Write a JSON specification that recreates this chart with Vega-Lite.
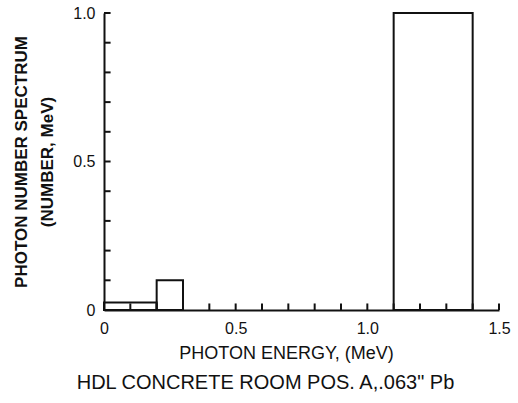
{
  "$schema": "https://vega.github.io/schema/vega-lite/v6.json",
  "width": 395,
  "height": 297,
  "autosize": {"type": "none"},
  "padding": {"left": 104, "top": 13, "right": 19, "bottom": 93},
  "background": "white",
  "title": {
    "text": "HDL CONCRETE ROOM POS. A,.063\" Pb",
    "orient": "bottom",
    "anchor": "middle",
    "font": "Liberation Sans",
    "fontSize": 20,
    "fontWeight": "normal",
    "color": "#111",
    "offset": 11,
    "dx": -36
  },
  "config": {
    "view": {"stroke": null},
    "axis": {
      "grid": false,
      "domainColor": "#111",
      "domainWidth": 2,
      "tickSize": 0,
      "labelFont": "Liberation Sans",
      "labelFontSize": 16,
      "labelColor": "#111",
      "titleFont": "Liberation Sans",
      "titleFontSize": 18,
      "titleFontWeight": "normal",
      "titleColor": "#111"
    }
  },
  "datasets": {
    "bars": [
      {"e0": 0.0, "e1": 0.2, "value": 0.025},
      {"e0": 0.2, "e1": 0.3, "value": 0.1},
      {"e0": 1.1, "e1": 1.4, "value": 1.0}
    ],
    "xticks": [
      {"t": 0.1}, {"t": 0.2}, {"t": 0.3}, {"t": 0.4}, {"t": 0.5}, {"t": 0.6}, {"t": 0.7},
      {"t": 0.8}, {"t": 0.9}, {"t": 1.0}, {"t": 1.1}, {"t": 1.2}, {"t": 1.3}, {"t": 1.4}, {"t": 1.5}
    ],
    "yticks": [
      {"t": 0.1}, {"t": 0.2}, {"t": 0.3}, {"t": 0.4}, {"t": 0.5}, {"t": 0.6}, {"t": 0.7},
      {"t": 0.8}, {"t": 0.9}, {"t": 1.0}
    ]
  },
  "layer": [
    {
      "data": {"name": "bars"},
      "mark": {"type": "rect", "fill": null, "stroke": "#111", "strokeWidth": 2},
      "encoding": {
        "x": {
          "field": "e0",
          "type": "quantitative",
          "scale": {"domain": [0, 1.5], "nice": false},
          "axis": {
            "title": "PHOTON ENERGY, (MeV)",
            "values": [0, 0.5, 1.0, 1.5],
            "labelExpr": "datum.value < 0.001 ? '0' : format(datum.value, '.1f')",
            "labelPadding": 10,
            "labelFlush": false,
            "titlePadding": 8,
            "titleX": 182
          }
        },
        "x2": {"field": "e1"},
        "y": {
          "field": "value",
          "type": "quantitative",
          "scale": {"domain": [0, 1], "nice": false},
          "axis": {
            "title": ["PHOTON NUMBER SPECTRUM", "(NUMBER, MeV)"],
            "values": [0, 0.5, 1.0],
            "labelExpr": "datum.value < 0.001 ? '0' : format(datum.value, '.1f')",
            "labelPadding": 9,
            "labelFlush": false,
            "titlePadding": 16,
            "titleLineHeight": 26,
            "titleFontWeight": "bold",
            "titleFontSize": 17
          }
        },
        "y2": {"datum": 0}
      }
    },
    {
      "data": {"name": "xticks"},
      "mark": {"type": "rule", "color": "#111", "strokeWidth": 2},
      "encoding": {
        "x": {"field": "t", "type": "quantitative"},
        "y": {"datum": 0},
        "y2": {"datum": 0.022}
      }
    },
    {
      "data": {"name": "yticks"},
      "mark": {"type": "rule", "color": "#111", "strokeWidth": 2},
      "encoding": {
        "y": {"field": "t", "type": "quantitative"},
        "x": {"datum": 0},
        "x2": {"datum": 0.025}
      }
    }
  ]
}
